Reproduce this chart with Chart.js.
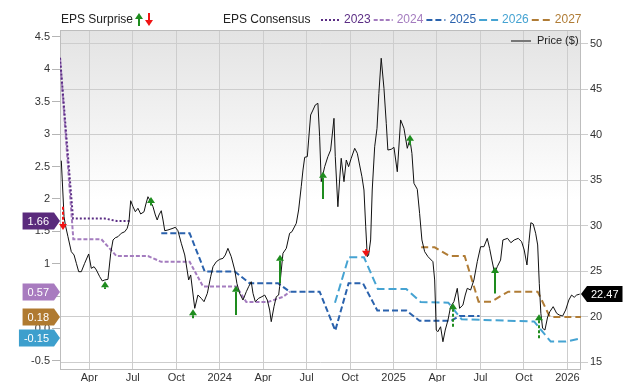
<!DOCTYPE html>
<html><head><meta charset="utf-8">
<script src="https://cdn.jsdelivr.net/npm/chart.js@4"></script>
<style>html,body{margin:0;padding:0;background:#fff}canvas{display:block}</style>
</head><body>
<canvas id="c" width="640" height="382"></canvas>
<script>
// ---- tick labels ----
const monthTicks = [3,6,9,12,15,18,21,24,27,30,33,36];
const monthLabels = ['Apr','Jul','Oct','2024','Apr','Jul','Oct','2025','Apr','Jul','Oct','2026'];
const epsTicks = [-0.5,0,0.5,1,1.5,2,2.5,3,3.5,4,4.5];
const epsTickLabels = ['-0.5','0.0','0.5','1','1.5','2','2.5','3','3.5','4','4.5'];
const priceTicks = [15,20,25,30,35,40,45,50];

// ---- price series (x = months since Jan 2023) ----
const priceMonths = [1.07,1.26,1.35,1.53,1.76,1.95,2.11,2.27,2.45,2.68,
2.96,3.14,3.33,3.49,3.72,3.90,4.07,4.29,4.48,4.64,
4.80,4.98,5.21,5.45,5.62,5.74,5.86,6.02,6.18,6.36,
6.55,6.78,6.89,7.05,7.24,7.40,7.56,7.69,7.81,7.97,
8.09,8.21,8.43,8.78,8.94,9.12,9.35,9.59,9.86,10.00,
10.28,10.50,10.73,10.92,11.15,11.38,11.54,11.77,12.00,12.23,
12.39,12.57,12.80,13.04,13.19,13.38,13.61,13.84,14.00,14.18,
14.30,14.46,14.69,14.92,15.11,15.29,15.45,15.56,15.75,15.91,
16.07,16.14,16.37,16.60,16.83,16.99,17.29,17.45,17.63,17.75,
17.87,18.05,18.14,18.28,18.44,18.60,18.78,18.90,19.01,19.25,
19.47,19.66,19.89,19.98,20.16,20.28,20.39,20.58,20.74,20.90,
21.08,21.32,21.50,21.66,21.82,21.96,22.08,22.19,22.28,22.42,
22.53,22.70,22.86,22.99,23.15,23.34,23.50,23.61,23.84,24.03,
24.26,24.49,24.72,24.95,25.13,25.27,25.41,25.64,25.80,25.96,
26.15,26.38,26.72,26.84,26.95,27.06,27.25,27.41,27.57,27.76,
27.94,28.17,28.40,28.56,28.79,28.95,29.09,29.32,29.55,29.78,
30.01,30.24,30.47,30.63,30.79,30.98,31.16,31.39,31.55,31.87,
32.10,32.33,32.61,32.84,33.02,33.21,33.34,33.48,33.64,33.81,
33.95,34.06,34.17,34.29,34.45,34.64,34.79,35.02,35.26,35.44,
35.67,35.88,36.10,36.29,36.47,36.64,36.85];
const priceValues = [37.16,30.99,30.08,28.79,27.14,26.78,25.86,24.94,24.94,25.86,
26.89,25.31,25.49,25.13,24.39,23.92,24.03,24.10,26.97,28.43,
28.68,28.79,29.17,29.34,29.72,30.44,32.75,32.09,31.54,31.92,
31.29,31.54,32.28,33.19,32.64,32.09,31.18,30.63,31.18,31.65,
30.63,29.45,29.53,29.72,29.83,29.45,28.07,26.78,24.03,24.58,
20.91,22.37,22.01,21.64,22.56,24.39,25.49,26.04,26.30,26.41,
26.78,27.51,26.59,25.13,23.66,22.56,21.82,22.74,23.29,23.84,
22.56,21.64,22.01,22.19,22.37,21.82,20.72,19.44,21.09,22.19,
22.37,23.29,26.97,27.51,29.17,29.34,30.27,31.73,34.29,36.13,
37.53,37.60,39.43,42.19,42.73,43.29,43.47,39.80,34.85,36.50,
37.60,38.33,41.82,37.60,32.09,35.03,37.42,34.85,37.23,36.50,
37.42,38.52,37.97,36.68,35.39,33.93,29.89,26.59,26.78,28.43,
33.93,38.69,40.72,44.57,48.43,45.12,41.27,38.33,38.41,38.63,
35.94,41.64,40.72,38.52,39.51,37.97,34.67,34.01,31.36,28.43,
27.14,26.59,26.04,24.03,18.52,18.33,18.88,17.23,18.52,19.62,
21.09,21.64,23.11,20.91,21.27,22.37,23.11,22.92,24.03,26.04,
27.69,27.69,28.61,27.51,26.22,24.76,25.49,26.22,28.43,28.61,
28.13,28.43,28.61,28.24,27.33,25.68,28.07,30.33,30.19,29.17,
27.88,23.66,20.36,18.71,18.52,19.99,20.54,21.09,20.36,20.17,
20.06,20.72,21.82,22.37,22.12,22.37,22.47];

// ---- EPS consensus step lines ----
const c2023Months = [0.98,1.88,4.06,4.89,5.86];
const c2023Values = [4.18,1.70,1.70,1.66,1.66];
const c2024Months = [0.98,1.90,3.83,4.87,7.05,7.97,9.93,10.85,13.15,13.84,15.33,16.37,16.84];
const c2024Values = [4.18,1.38,1.38,1.12,1.12,1.03,1.03,0.65,0.65,0.41,0.41,0.49,0.57];
const c2025Months = [7.97,9.93,10.97,13.04,14.07,16.03,16.83,18.90,19.98,20.90,21.89,22.88,24.88,25.80,27.98,28.56,29.94];
const c2025Values = [1.47,1.47,0.88,0.88,0.70,0.70,0.57,0.57,-0.03,0.70,0.70,0.28,0.28,0.12,0.12,0.195,0.195];
const c2026Months = [19.96,20.90,21.96,22.92,24.88,25.87,27.78,28.70,33.70,34.85,35.90,36.94];
const c2026Values = [0.40,1.10,1.10,0.61,0.61,0.41,0.40,0.145,0.11,-0.20,-0.20,-0.15];
const c2027Months = [25.91,26.84,27.87,28.91,29.87,30.74,31.92,33.95,34.79,36.94];
const c2027Values = [1.255,1.255,1.12,1.12,0.415,0.415,0.57,0.57,0.18,0.18];

// ---- EPS surprises ----
const surpriseMonths = [1.22,4.07,7.24,10.16,13.15,16.14,19.13,22.08,25.11,28.10,31.02,34.06];
const surpriseFrom   = [1.88,0.61,1.90,0.16,0.21,0.70,2.00,1.23,2.83,0.03,0.54,-0.15];
const surpriseTo     = [1.52,0.73,2.03,0.30,0.66,1.14,2.42,1.11,2.99,0.39,0.95,0.22];
const surpriseDashed = [true,false,false,false,false,false,false,false,false,true,false,true];

// ---- last values ----
const badgeValues = [1.66,0.57,0.18,-0.15];
const lastPrice = 22.47;

const COL = {c2023:'#5b2d84', c2024:'#a47cbf', c2025:'#2a62ad', c2026:'#45a3d2', c2027:'#b07c35'};
const badgeColors = ['#5a2a7c','#a87bbf','#b07a30','#3d9fcd'];
const FONT = '"Liberation Sans", Arial, sans-serif';

const pts = (xs, ys) => xs.map((x,i)=>({x:x, y:ys[i]}));
const epsDs = (label, xs, ys, color, dash) => ({
  label, data: pts(xs,ys), yAxisID:'yL', borderColor: color, borderWidth: 2,
  borderDash: dash, pointRadius: 0, tension: 0, fill: false
});

function drawArrow(ctx, x, y0, y1, color, dashed){
  const up = y1 < y0;
  const d = up ? 1 : -1;
  const hh = 6, hw = 4;
  ctx.save();
  ctx.strokeStyle = color; ctx.fillStyle = color; ctx.lineWidth = 2;
  if (Math.abs(y1 - y0) > hh) {
    if (dashed) ctx.setLineDash([3,2]);
    ctx.beginPath(); ctx.moveTo(x, y0); ctx.lineTo(x, y1 + d*hh); ctx.stroke();
    ctx.setLineDash([]);
  }
  ctx.beginPath();
  ctx.moveTo(x, y1); ctx.lineTo(x - hw, y1 + d*hh); ctx.lineTo(x + hw, y1 + d*hh);
  ctx.closePath(); ctx.fill();
  ctx.restore();
}

const decor = {
  id: 'decor',
  beforeDraw(chart){
    const {ctx, chartArea:a} = chart;
    const g = ctx.createLinearGradient(0, a.top, 0, a.bottom);
    g.addColorStop(0, '#e3e3e3'); g.addColorStop(0.5, '#ffffff'); g.addColorStop(1, '#ffffff');
    ctx.save(); ctx.fillStyle = g; ctx.fillRect(a.left, a.top, a.right-a.left, a.bottom-a.top); ctx.restore();
  },
  beforeDatasetsDraw(chart){
    const {ctx, chartArea:a} = chart;
    ctx.save(); ctx.strokeStyle = '#bdbdbd'; ctx.lineWidth = 1;
    ctx.strokeRect(a.left+0.5, a.top+0.5, a.right-a.left-1, a.bottom-a.top-1);
    ctx.restore();
  },
  afterDatasetsDraw(chart){
    const {ctx} = chart; const xs = chart.scales.x, yl = chart.scales.yL;
    surpriseMonths.forEach((m,i)=>{
      const x = Math.round(xs.getPixelForValue(m));
      const up = surpriseTo[i] > surpriseFrom[i];
      drawArrow(ctx, x, yl.getPixelForValue(surpriseFrom[i]), yl.getPixelForValue(surpriseTo[i]),
        up ? '#1e8c1e' : '#f01414', surpriseDashed[i]);
    });
  },
  afterDraw(chart){
    const {ctx, chartArea:a} = chart; const yl = chart.scales.yL, yr = chart.scales.yR;
    ctx.save();
    ctx.textBaseline = 'middle';
    // legend
    ctx.font = '12px ' + FONT; ctx.fillStyle = '#222'; ctx.textAlign = 'left';
    ctx.fillText('EPS Surprise', 61, 20);
    drawArrow(ctx, 139, 26, 13, '#1e8c1e', false);
    drawArrow(ctx, 149, 13, 26, '#f01414', false);
    ctx.fillStyle = '#222';
    ctx.fillText('EPS Consensus', 223, 20);
    const items = [['2023',COL.c2023,[2,2]],['2024',COL.c2024,[4,2]],['2025',COL.c2025,[6,3]],['2026',COL.c2026,[8,4]],['2027',COL.c2027,[7,4]]];
    let x = 321;
    items.forEach(([t,c,dash])=>{
      ctx.save(); ctx.strokeStyle = c; ctx.lineWidth = 2; ctx.setLineDash(dash);
      ctx.beginPath(); ctx.moveTo(x, 20); ctx.lineTo(x+19, 20); ctx.stroke(); ctx.restore();
      ctx.fillStyle = c; ctx.fillText(t, x+23, 20);
      x = x + 23 + ctx.measureText(t).width + 3;
    });
    // price legend
    ctx.strokeStyle = '#777'; ctx.lineWidth = 2;
    ctx.beginPath(); ctx.moveTo(511, 41); ctx.lineTo(531, 41); ctx.stroke();
    ctx.font = '11px ' + FONT; ctx.fillStyle = '#222';
    ctx.fillText('Price ($)', 537, 41);
    // left badges
    ctx.font = '11px ' + FONT;
    badgeValues.forEach((v,i)=>{
      const y = Math.round(yl.getPixelForValue(v));
      const t = v.toFixed(2);
      const tw = ctx.measureText(t).width;
      const tip = a.left, bw = tw + 10, h = 17;
      const l = tip - 6 - bw;
      ctx.fillStyle = badgeColors[i];
      ctx.beginPath();
      ctx.moveTo(l, y - h/2); ctx.lineTo(tip-6, y - h/2); ctx.lineTo(tip, y); ctx.lineTo(tip-6, y + h/2); ctx.lineTo(l, y + h/2);
      ctx.closePath(); ctx.fill();
      ctx.fillStyle = '#fff'; ctx.textAlign = 'left';
      ctx.fillText(t, l + 5, y + 0.5);
    });
    // right price badge
    {
      const y = Math.round(yr.getPixelForValue(lastPrice));
      const t = lastPrice.toFixed(2);
      const tw = ctx.measureText(t).width;
      const tip = a.right, h = 16;
      const r = tip + 6 + tw + 8;
      ctx.fillStyle = '#000';
      ctx.beginPath();
      ctx.moveTo(tip, y); ctx.lineTo(tip+6, y-h/2); ctx.lineTo(r, y-h/2); ctx.lineTo(r, y+h/2); ctx.lineTo(tip+6, y+h/2);
      ctx.closePath(); ctx.fill();
      ctx.fillStyle = '#fff'; ctx.textAlign = 'left';
      ctx.fillText(t, tip + 10, y + 0.5);
    }
    ctx.restore();
  }
};

Chart.defaults.font.family = FONT;
Chart.defaults.font.size = 11;
Chart.defaults.color = '#333';

new Chart(document.getElementById('c'), {
  type: 'line',
  data: {
    datasets: [
      {label:'Price ($)', data: pts(priceMonths, priceValues), yAxisID:'yR', borderColor:'#111', borderWidth:1, pointRadius:0, tension:0, fill:false},
      epsDs('2023', c2023Months, c2023Values, COL.c2023, [2,2]),
      epsDs('2024', c2024Months, c2024Values, COL.c2024, [4,2]),
      epsDs('2025', c2025Months, c2025Values, COL.c2025, [6,3]),
      epsDs('2026', c2026Months, c2026Values, COL.c2026, [8,4]),
      epsDs('2027', c2027Months, c2027Values, COL.c2027, [7,4])
    ]
  },
  options: {
    responsive: false, animation: false, devicePixelRatio: 1,
    layout: {padding: {top: 30, left: 0, right: 0, bottom: 0}},
    plugins: {legend: {display:false}, tooltip: {enabled:false}},
    scales: {
      x: {
        type: 'linear', min: 0.98, max: 36.94,
        afterBuildTicks: s => { s.ticks = monthTicks.map(v=>({value:v})); },
        ticks: {callback: (v,i) => monthLabels[i], autoSkip:false, maxRotation:0, padding:1, color:'#333'},
        grid: {color:'#cdcdcd', drawTicks:false},
        border: {display:false},
        afterFit: s => { s.height = 12; }
      },
      yL: {
        position: 'left', min: -0.639, max: 4.608,
        afterBuildTicks: s => { s.ticks = epsTicks.map(v=>({value:v})); },
        ticks: {callback: (v,i) => epsTickLabels[i], padding:2, color:'#333'},
        grid: {drawOnChartArea:false, tickLength:8, color:'#b5b5b5'},
        border: {display:false},
        afterFit: s => { s.width = 60; }
      },
      yR: {
        position: 'right', min: 14.12, max: 51.54,
        afterBuildTicks: s => { s.ticks = priceTicks.map(v=>({value:v})); },
        ticks: {callback: v => String(v), padding:2, color:'#333'},
        grid: {color:'#cdcdcd', tickLength:7},
        border: {display:false},
        afterFit: s => { s.width = 59; }
      }
    }
  },
  plugins: [decor]
});
</script>
</body></html>
